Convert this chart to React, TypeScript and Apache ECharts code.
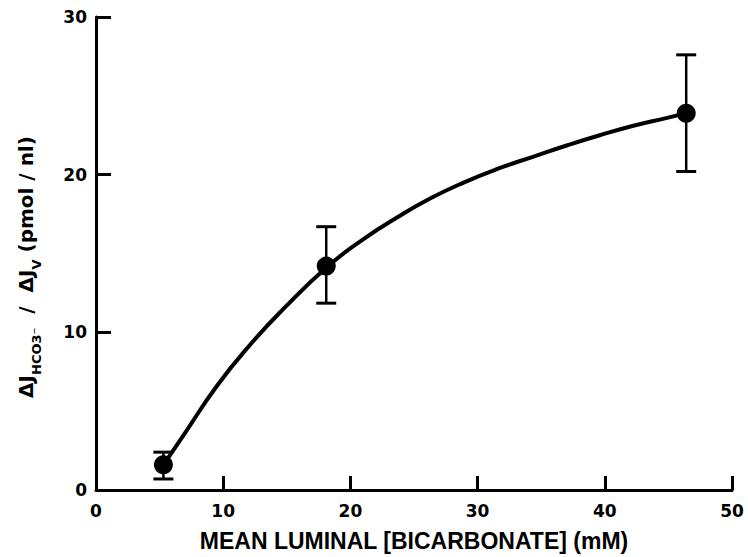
import React, { useEffect, useRef } from "react";
import * as echarts from "echarts";

// Measured points (mean ± error)
const pointX = [5.3, 18.1, 46.4];
const pointY = [1.6, 14.2, 23.9];
const errLow = [0.7, 11.85, 20.2];
const errHigh = [2.4, 16.7, 27.6];

// Fitted curve
const curveX = [5.3, 6.9, 9.5, 12.1, 14.75, 18.1, 21.0, 23.7, 26.3, 28.9, 31.5, 34.4, 37.0, 39.6, 42.25, 44.9, 46.4];
const curveY = [1.6, 3.5, 6.6, 9.2, 11.5, 14.1, 15.9, 17.3, 18.5, 19.5, 20.35, 21.15, 21.85, 22.5, 23.1, 23.6, 23.9];

const xTitle = "MEAN LUMINAL [BICARBONATE] (mM)";

export default function App() {
  const ref = useRef<HTMLDivElement>(null);

  useEffect(() => {
    if (!ref.current) return;
    const chart = echarts.init(ref.current, null, { renderer: "svg" });

    const tickFont = {
      color: "#000",
      fontSize: 17,
      fontWeight: "bold" as const,
      fontFamily: "DejaVu Sans",
    };

    const option: any = {
      animation: false,
      backgroundColor: "#fff",
      grid: { left: 96, right: 16, top: 17, bottom: 64 },
      xAxis: {
        type: "value",
        min: 0,
        max: 50,
        interval: 10,
        axisLine: { show: true, lineStyle: { color: "#000", width: 3 } },
        axisTick: { show: true, inside: true, length: 14, lineStyle: { color: "#000", width: 3 } },
        axisLabel: { ...tickFont, margin: 12 },
        splitLine: { show: false },
        name: xTitle,
        nameLocation: "middle",
        nameGap: 39,
        nameTextStyle: {
          color: "#000",
          fontSize: 23,
          fontWeight: "bold",
          fontFamily: "Liberation Sans",
        },
      },
      yAxis: {
        type: "value",
        min: 0,
        max: 30,
        interval: 10,
        axisLine: { show: true, lineStyle: { color: "#000", width: 3 } },
        axisTick: { show: true, inside: true, length: 15, lineStyle: { color: "#000", width: 3 } },
        axisLabel: { ...tickFont, margin: 9 },
        splitLine: { show: false },
      },
      graphic: [
        {
          type: "text",
          x: 26,
          y: 267,
          rotation: Math.PI / 2,
          style: {
            text: "{m|ΔJ}{s|HCO3⁻}{m|  /  ΔJ}{s|V}{m| (pmol / nl)}",
            align: "center",
            verticalAlign: "middle",
            fill: "#000",
            rich: {
              m: {
                fontSize: 20,
                fontWeight: "bold",
                fontFamily: "DejaVu Sans",
                lineHeight: 34,
                verticalAlign: "middle",
                fill: "#000",
              },
              s: {
                fontSize: 13,
                fontWeight: "bold",
                fontFamily: "DejaVu Sans",
                lineHeight: 14,
                verticalAlign: "bottom",
                fill: "#000",
              },
            },
          },
        },
      ],
      series: [
        {
          type: "line",
          data: curveX.map((x, i) => [x, curveY[i]]),
          showSymbol: false,
          symbol: "none",
          smooth: 0.5,
          lineStyle: { color: "#000", width: 4 },
          z: 2,
        },
        {
          type: "custom",
          data: pointX.map((x, i) => [x, errLow[i], errHigh[i]]),
          encode: { x: 0, y: [1, 2] },
          renderItem: (params: any, api: any) => {
            const x = api.value(0);
            const lo = api.coord([x, api.value(1)]);
            const hi = api.coord([x, api.value(2)]);
            const half = 10;
            const st = { stroke: "#000", lineWidth: 2.5 };
            const cap = { stroke: "#000", lineWidth: 3 };
            return {
              type: "group",
              children: [
                { type: "line", shape: { x1: lo[0], y1: lo[1], x2: hi[0], y2: hi[1] }, style: st },
                { type: "line", shape: { x1: lo[0] - half, y1: lo[1], x2: lo[0] + half, y2: lo[1] }, style: cap },
                { type: "line", shape: { x1: hi[0] - half, y1: hi[1], x2: hi[0] + half, y2: hi[1] }, style: cap },
              ],
            };
          },
          z: 3,
        },
        {
          type: "scatter",
          data: pointX.map((x, i) => [x, pointY[i]]),
          symbol: "circle",
          symbolSize: 19,
          itemStyle: { color: "#000", opacity: 1 },
          z: 4,
        },
      ],
    };

    chart.setOption(option);
    return () => chart.dispose();
  }, []);

  return (
    <div
      ref={ref}
      style={{ position: "fixed", left: 0, top: 0, width: 748, height: 557 }}
    />
  );
}
